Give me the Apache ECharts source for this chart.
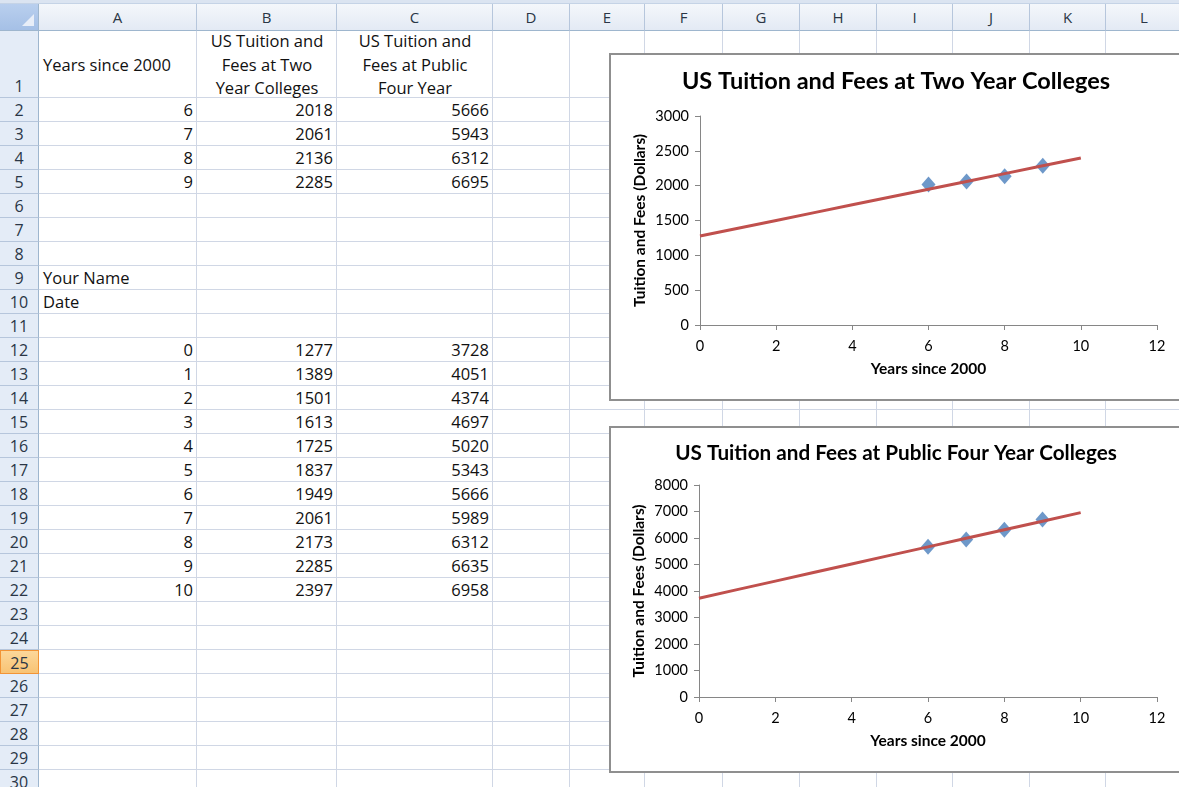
<!DOCTYPE html>
<html>
<head>
<meta charset="utf-8">
<title>US Tuition and Fees</title>
<script src="https://cdn.jsdelivr.net/npm/echarts@6/dist/echarts.min.js"></script>
<style>
  html, body { margin: 0; padding: 0; background: #fff; }
  body { width: 1179px; height: 787px; overflow: hidden; position: relative; font-family: "Open Sans", Lato, sans-serif; }
  #sheet { position: absolute; left: 0; top: 0; width: 1179px; height: 787px; overflow: hidden; }
  .strip { position: absolute; left: 0; top: 0; width: 1179px; height: 4px; background: #dbe4f1; border-bottom: 1px solid #c5d3e6; box-sizing: border-box; }
  .cell { position: absolute; box-sizing: border-box; border-right: 1px solid #d0d7e5; border-bottom: 1px solid #d0d7e5; }
  .colhead { position: absolute; box-sizing: border-box; top: 4px; height: 27px; border-right: 1px solid #b6c6dc; border-bottom: 1px solid #9eb6ce;
             background: linear-gradient(#f4f7fb, #e3eaf4); color: #2a3646; font-size: 15px; text-align: center; line-height: 26px; }
  .rowhead { position: absolute; box-sizing: border-box; left: 0; width: 39px; border-right: 1px solid #9eb6ce; border-bottom: 1px solid #b6c6dc;
             background: #e4ecf7; color: #2a3646; font-size: 16px; text-align: center; }
  .rowhead.active { background: linear-gradient(#fcd79a, #f8c374); border: 1px solid #f29436; }
  .corner { position: absolute; left: 0; top: 4px; width: 39px; height: 27px; box-sizing: border-box; background: linear-gradient(#b9cfee, #a5c0e6);
            border-right: 1px solid #9eb6ce; border-bottom: 1px solid #9eb6ce; }
  .corner::after { content: ""; position: absolute; right: 4px; bottom: 4px; width: 0; height: 0;
                   border-left: 12px solid transparent; border-bottom: 12px solid #e8eef8; }
  .txt { position: absolute; box-sizing: border-box; font-size: 16.5px; color: #111; white-space: nowrap; overflow: hidden; }
  .frame { position: absolute; left: 609px; width: 580px; box-sizing: border-box; border: 2px solid #8f8f8f; background: #fff; }
  .chart { width: 570px; height: 100%; }
</style>
</head>
<body>
<div id="sheet"></div>
<div class="frame" id="frame1" style="top:53px;height:348px;"><div class="chart" id="chart1"></div></div>
<div class="frame" id="frame2" style="top:426px;height:347px;"><div class="chart" id="chart2"></div></div>
<script>
// Observed tuition and fees (dollars) by years since 2000
const yearsObserved = [6, 7, 8, 9];
const twoYearObserved = [2018, 2061, 2136, 2285];
const fourYearObserved = [5666, 5943, 6312, 6695];

// Linear model values for years 0-10
const yearsModel = [0, 1, 2, 3, 4, 5, 6, 7, 8, 9, 10];
const twoYearModel = [1277, 1389, 1501, 1613, 1725, 1837, 1949, 2061, 2173, 2285, 2397];
const fourYearModel = [3728, 4051, 4374, 4697, 5020, 5343, 5666, 5989, 6312, 6635, 6958];

// Sheet text
const columnLetters = ['A', 'B', 'C', 'D', 'E', 'F', 'G', 'H', 'I', 'J', 'K', 'L'];
const headerYears = ['Years since 2000'];
const headerTwoYear = ['US Tuition and', 'Fees at Two', 'Year Colleges'];
const headerFourYear = ['US Tuition and', 'Fees at Public', 'Four Year'];
const nameLabels = ['Your Name', 'Date'];

// Chart text
const titleTwoYear = 'US Tuition and Fees at Two Year Colleges';
const titleFourYear = 'US Tuition and Fees at Public Four Year Colleges';
const xAxisName = 'Years since 2000';
const yAxisName = 'Tuition and Fees (Dollars)';

// ---- spreadsheet grid ----
const colWidths = [158, 140, 156, 77, 75, 78, 77, 77, 76, 77, 76, 77];
const rowCount = 30;
const firstRowHeight = 67;
const rowHeight = 24;
const gridLeft = 39, gridTop = 31;

const colX = [];
let x = gridLeft;
colWidths.forEach(w => { colX.push(x); x += w; });
const rowY = [];
let y = gridTop;
for (let r = 1; r <= rowCount; r++) { rowY.push(y); y += (r === 1 ? firstRowHeight : rowHeight); }
const rowH = r => (r === 1 ? firstRowHeight : rowHeight);

const sheet = document.getElementById('sheet');
function add(cls, style, text) {
  const d = document.createElement('div');
  d.className = cls;
  Object.assign(d.style, style);
  if (text !== undefined) d.innerHTML = text;
  sheet.appendChild(d);
  return d;
}

add('strip', {});
for (let r = 1; r <= rowCount; r++) {
  for (let c = 0; c < colWidths.length; c++) {
    add('cell', { left: colX[c] + 'px', top: rowY[r - 1] + 'px', width: colWidths[c] + 'px', height: rowH(r) + 'px' });
  }
}
add('corner', {});
columnLetters.forEach((L, c) => {
  add('colhead', { left: colX[c] + 'px', width: colWidths[c] + 'px' }, L);
});
for (let r = 1; r <= rowCount; r++) {
  const h = rowH(r);
  add('rowhead' + (r === 25 ? ' active' : ''), {
    top: rowY[r - 1] + 'px', height: h + 'px',
    lineHeight: (r === 1 ? 20 : h) + 'px',
    paddingTop: (r === 1 ? (h - 22) + 'px' : '0')
  }, String(r));
}

// place text inside a cell
function cellText(c, r, lines, align) {
  const left = colX[c], top = rowY[r - 1], w = colWidths[c], h = rowH(r);
  const lh = lines.length > 1 ? 23.5 : h;
  const blockH = lines.length * lh;
  add('txt', {
    left: left + 'px', top: (top + (h - blockH) / 2) + 'px',
    width: w + 'px', height: blockH + 'px', lineHeight: lh + 'px',
    textAlign: align, padding: align === 'right' ? '0 4px 0 0' : (align === 'left' ? '0 0 0 4px' : '0'),
    overflow: 'visible'
  }, lines.join('<br>'));
}

cellText(0, 1, headerYears, 'left');
cellText(1, 1, headerTwoYear, 'center');
cellText(2, 1, headerFourYear, 'center');
yearsObserved.forEach((yr, i) => {
  cellText(0, 2 + i, [String(yr)], 'right');
  cellText(1, 2 + i, [String(twoYearObserved[i])], 'right');
  cellText(2, 2 + i, [String(fourYearObserved[i])], 'right');
});
cellText(0, 9, [nameLabels[0]], 'left');
cellText(0, 10, [nameLabels[1]], 'left');
yearsModel.forEach((yr, i) => {
  cellText(0, 12 + i, [String(yr)], 'right');
  cellText(1, 12 + i, [String(twoYearModel[i])], 'right');
  cellText(2, 12 + i, [String(fourYearModel[i])], 'right');
});

// ---- charts ----
const FONT = 'Lato, "Open Sans", sans-serif';
function chartOption(title, titleSize, xs, ys, modelXs, modelYs, yMax, yInterval, layout) {
  const axisLine = { show: true, lineStyle: { color: '#868686', width: 1 } };
  const axisTick = { show: true, inside: false, length: 5, lineStyle: { color: '#868686' } };
  return {
    animation: false,
    backgroundColor: '#fff',
    title: {
      text: title, left: 'center', top: layout.titleTop,
      textStyle: { fontFamily: FONT, fontWeight: 'bold', fontSize: titleSize, color: '#000' }
    },
    grid: { left: layout.left, top: layout.top, width: layout.width, height: layout.height, containLabel: false },
    xAxis: {
      type: 'value', min: 0, max: 12, interval: 2,
      name: xAxisName, nameLocation: 'middle', nameGap: 36, nameMoveOverlap: false,
      nameTextStyle: { fontFamily: FONT, fontWeight: 'bold', fontSize: 15.5, color: '#000' },
      axisLine, axisTick,
      axisLabel: { fontFamily: FONT, fontSize: 14.5, color: '#000', margin: 14 },
      splitLine: { show: false }
    },
    yAxis: {
      type: 'value', min: 0, max: yMax, interval: yInterval,
      name: yAxisName, nameLocation: 'middle', nameGap: 52, nameMoveOverlap: false,
      nameTextStyle: { fontFamily: FONT, fontWeight: 'bold', fontSize: 15.5, color: '#000' },
      axisLine, axisTick,
      axisLabel: { fontFamily: FONT, fontSize: 14.5, color: '#000', margin: 11, formatter: v => String(v) },
      splitLine: { show: false }
    },
    series: [
      {
        type: 'line', data: modelXs.map((v, i) => [v, modelYs[i]]),
        showSymbol: false, symbol: 'none',
        lineStyle: { color: '#c0504d', width: 3 }, z: 3
      },
      {
        type: 'scatter', data: xs.map((v, i) => [v, ys[i]]),
        symbol: 'diamond', symbolSize: [14, 16],
        itemStyle: { color: '#4a7ebb' }, z: 2
      }
    ]
  };
}

const c1 = echarts.init(document.getElementById('chart1'), null, { renderer: 'canvas' });
c1.setOption(chartOption(titleTwoYear, 23.5, yearsObserved, twoYearObserved, yearsModel, twoYearModel, 3000, 500,
  { titleTop: 9, left: 89, top: 61, width: 457, height: 209 }));

const c2 = echarts.init(document.getElementById('chart2'), null, { renderer: 'canvas' });
c2.setOption(chartOption(titleFourYear, 20.7, yearsObserved, fourYearObserved, yearsModel, fourYearModel, 8000, 1000,
  { titleTop: 10, left: 88, top: 57, width: 458, height: 212 }));
</script>
</body>
</html>
